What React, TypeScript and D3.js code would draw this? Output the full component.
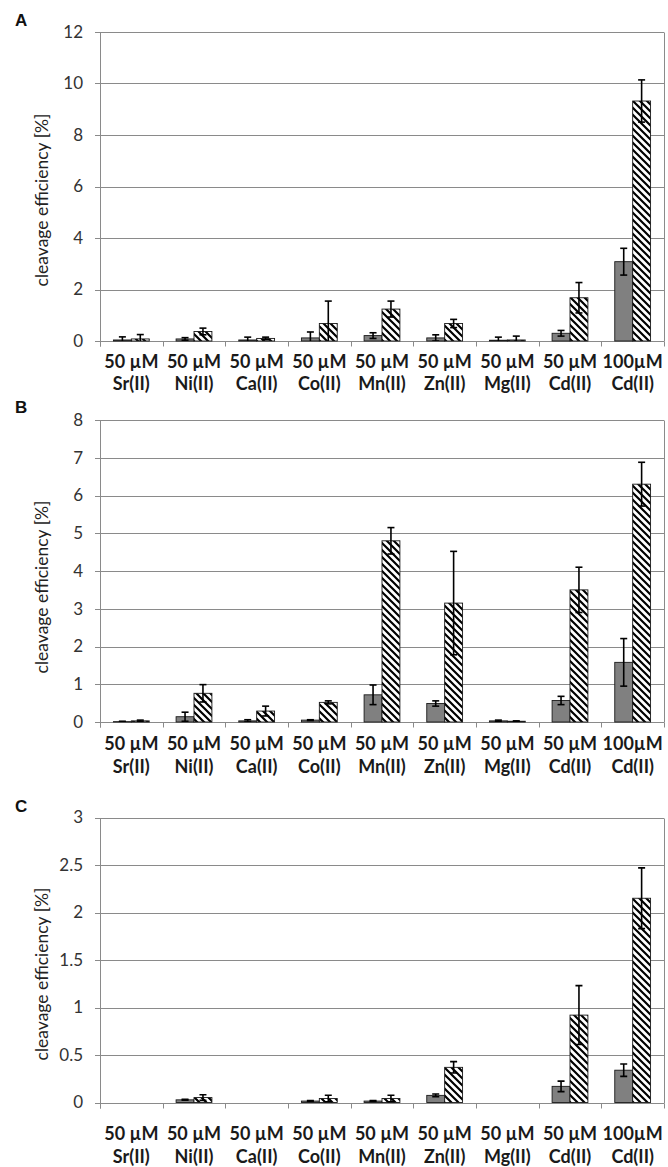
import React from 'react';
import * as d3 from 'd3';

const concLabels = ['50 µM', '50 µM', '50 µM', '50 µM', '50 µM', '50 µM', '50 µM', '50 µM', '100µM'];
const ionLabels = ['Sr(II)', 'Ni(II)', 'Ca(II)', 'Co(II)', 'Mn(II)', 'Zn(II)', 'Mg(II)', 'Cd(II)', 'Cd(II)'];

// Panel A
const grayA = [0.04, 0.08, 0.04, 0.12, 0.21, 0.12, 0.03, 0.3, 3.08];
const grayAErr = [0.12, 0.05, 0.11, 0.23, 0.11, 0.12, 0.12, 0.11, 0.52];
const hatchA = [0.08, 0.37, 0.1, 0.68, 1.24, 0.68, 0.04, 1.68, 9.32];
const hatchAErr = [0.17, 0.13, 0.05, 0.87, 0.31, 0.16, 0.15, 0.59, 0.82];
const ticksA = ['0', '2', '4', '6', '8', '10', '12'];

// Panel B
const grayB = [0.01, 0.14, 0.03, 0.05, 0.72, 0.49, 0.03, 0.57, 1.58];
const grayBErr = [0.01, 0.12, 0.03, 0.01, 0.26, 0.07, 0.02, 0.11, 0.63];
const hatchB = [0.03, 0.76, 0.29, 0.52, 4.8, 3.15, 0.02, 3.5, 6.3];
const hatchBErr = [0.02, 0.23, 0.13, 0.04, 0.35, 1.37, 0.01, 0.6, 0.58];
const ticksB = ['0', '1', '2', '3', '4', '5', '6', '7', '8'];

// Panel C
const grayC = [null, 0.028, null, 0.015, 0.015, 0.075, null, 0.17, 0.34];
const grayCErr = [null, 0.005, null, 0.005, 0.005, 0.015, null, 0.055, 0.065];
const hatchC = [null, 0.052, null, 0.042, 0.042, 0.37, null, 0.92, 2.15];
const hatchCErr = [null, 0.03, null, 0.035, 0.035, 0.06, null, 0.31, 0.32];
const ticksC = ['0', '0.5', '1', '1.5', '2', '2.5', '3'];

type Cfg = {
  letter: string;
  gray: (number | null)[];
  grayErr: (number | null)[];
  hatch: (number | null)[];
  hatchErr: (number | null)[];
  ticks: string[];
  top: number;
  bottom: number;
  row1: number;
  row2: number;
  letterY: number;
  titleY: number;
};

const L = 100;
const R = 664;
const FONT = 'Lato, "Open Sans", sans-serif';

function Panel({ cfg, idx }: { cfg: Cfg; idx: number }) {
  const tickVals = cfg.ticks.map((t) => parseFloat(t));
  const max = d3.max(tickVals) as number;
  const x = d3.scaleBand<number>().domain(d3.range(concLabels.length)).range([L, R]).paddingInner(0).paddingOuter(0);
  const y = d3.scaleLinear().domain([0, max]).range([cfg.bottom, cfg.top]);
  const bw = x.bandwidth() / 3.5;
  const clipId = `clip${idx}`;
  const crisp = (v: number) => Math.round(v) + 0.5;

  const bars: React.ReactNode[] = [];
  const errs: React.ReactNode[] = [];
  const series = [
    { vals: cfg.gray, err: cfg.grayErr, off: -1, fill: '#808080' },
    { vals: cfg.hatch, err: cfg.hatchErr, off: 0, fill: 'url(#hatch)' },
  ];
  series.forEach((s, si) => {
    s.vals.forEach((v, i) => {
      if (v === null || v === undefined) return;
      const cx = (x(i) as number) + x.bandwidth() / 2;
      const bx = cx + s.off * bw;
      const yTop = y(v);
      bars.push(
        <rect key={`b${si}-${i}`} x={bx} y={yTop} width={bw} height={Math.max(0, cfg.bottom - yTop)}
          fill={s.fill} stroke="#1a1a1a" strokeWidth={0.9} />
      );
      const e = s.err[i];
      if (e !== null && e !== undefined && e > 0) {
        const ex = bx + bw / 2;
        const hi = y(v + e);
        const loVal = v - e;
        const lo = y(Math.max(0, loVal));
        const cap = 3.5;
        errs.push(
          <g key={`e${si}-${i}`} stroke="#000" strokeWidth={1.6}>
            <line x1={ex} x2={ex} y1={hi} y2={lo} />
            <line x1={ex - cap} x2={ex + cap} y1={hi} y2={hi} />
            {loVal >= 0 && <line x1={ex - cap} x2={ex + cap} y1={lo} y2={lo} />}
          </g>
        );
      }
    });
  });

  const boundaries = d3.range(concLabels.length + 1).map((i) => L + i * x.bandwidth());

  return (
    <g>
      <defs>
        <clipPath id={clipId}>
          <rect x={L} y={cfg.top - 1} width={R - L} height={cfg.bottom - cfg.top + 1} />
        </clipPath>
      </defs>
      <text x={15} y={cfg.letterY} fontFamily='"Liberation Sans", Arial, sans-serif' fontWeight="bold" fontSize={17} fill="#111">{cfg.letter}</text>
      {tickVals.map((t, i) => (
        <line key={`g${i}`} x1={L - 5} x2={R} y1={crisp(y(t))} y2={crisp(y(t))} stroke="#8a8a8a" strokeWidth={1} />
      ))}
      <line x1={crisp(R)} x2={crisp(R)} y1={crisp(y(max))} y2={crisp(cfg.bottom)} stroke="#8a8a8a" strokeWidth={1} />
      <line x1={crisp(L)} x2={crisp(L)} y1={crisp(y(max))} y2={crisp(cfg.bottom) + 5} stroke="#8a8a8a" strokeWidth={1} />
      {boundaries.map((b, i) => (
        <line key={`xt${i}`} x1={crisp(b)} x2={crisp(b)} y1={crisp(cfg.bottom)} y2={crisp(cfg.bottom) + 5} stroke="#8a8a8a" strokeWidth={1} />
      ))}
      {cfg.ticks.map((t, i) => (
        <text key={`yl${i}`} x={83} y={y(tickVals[i])} dy="0.35em" textAnchor="end" fontFamily={FONT} fontSize={17} fill="#333">{t}</text>
      ))}
      <text transform={`translate(48,${cfg.titleY}) rotate(-90)`} textAnchor="middle" fontFamily={FONT} fontSize={17.5} fill="#222">cleavage efficiency [%]</text>
      {bars}
      <g clipPath={`url(#${clipId})`}>{errs}</g>
      {concLabels.map((c, i) => {
        const cx = (x(i) as number) + x.bandwidth() / 2;
        return (
          <g key={`xl${i}`} fontFamily={FONT} fontWeight="bold" fontSize={18} fill="#1a1a1a" textAnchor="middle">
            <text x={cx} y={cfg.row1}>{c}</text>
            <text x={cx} y={cfg.row2}>{ionLabels[i]}</text>
          </g>
        );
      })}
    </g>
  );
}

export default function App() {
  const panels: Cfg[] = [
    { letter: 'A', gray: grayA, grayErr: grayAErr, hatch: hatchA, hatchErr: hatchAErr, ticks: ticksA,
      top: 32, bottom: 341, row1: 368, row2: 390, letterY: 26, titleY: 200 },
    { letter: 'B', gray: grayB, grayErr: grayBErr, hatch: hatchB, hatchErr: hatchBErr, ticks: ticksB,
      top: 420, bottom: 722, row1: 750, row2: 773, letterY: 413, titleY: 587 },
    { letter: 'C', gray: grayC, grayErr: grayCErr, hatch: hatchC, hatchErr: hatchCErr, ticks: ticksC,
      top: 817.5, bottom: 1102.5, row1: 1140, row2: 1163, letterY: 812, titleY: 974 },
  ];
  return (
    <svg width={668} height={1167} style={{ position: 'absolute', left: 0, top: 0, background: '#fff' }}>
      <defs>
        <pattern id="hatch" patternUnits="userSpaceOnUse" width={7} height={7}>
          <rect width={7} height={7} fill="#fff" />
          <path d="M-1,-1 L8,8 M-1,6 L1,8 M6,-1 L8,1" stroke="#000" strokeWidth={2.2} />
        </pattern>
      </defs>
      <rect width={668} height={1167} fill="#fff" />
      {panels.map((p, i) => (
        <Panel key={p.letter} cfg={p} idx={i} />
      ))}
    </svg>
  );
}
